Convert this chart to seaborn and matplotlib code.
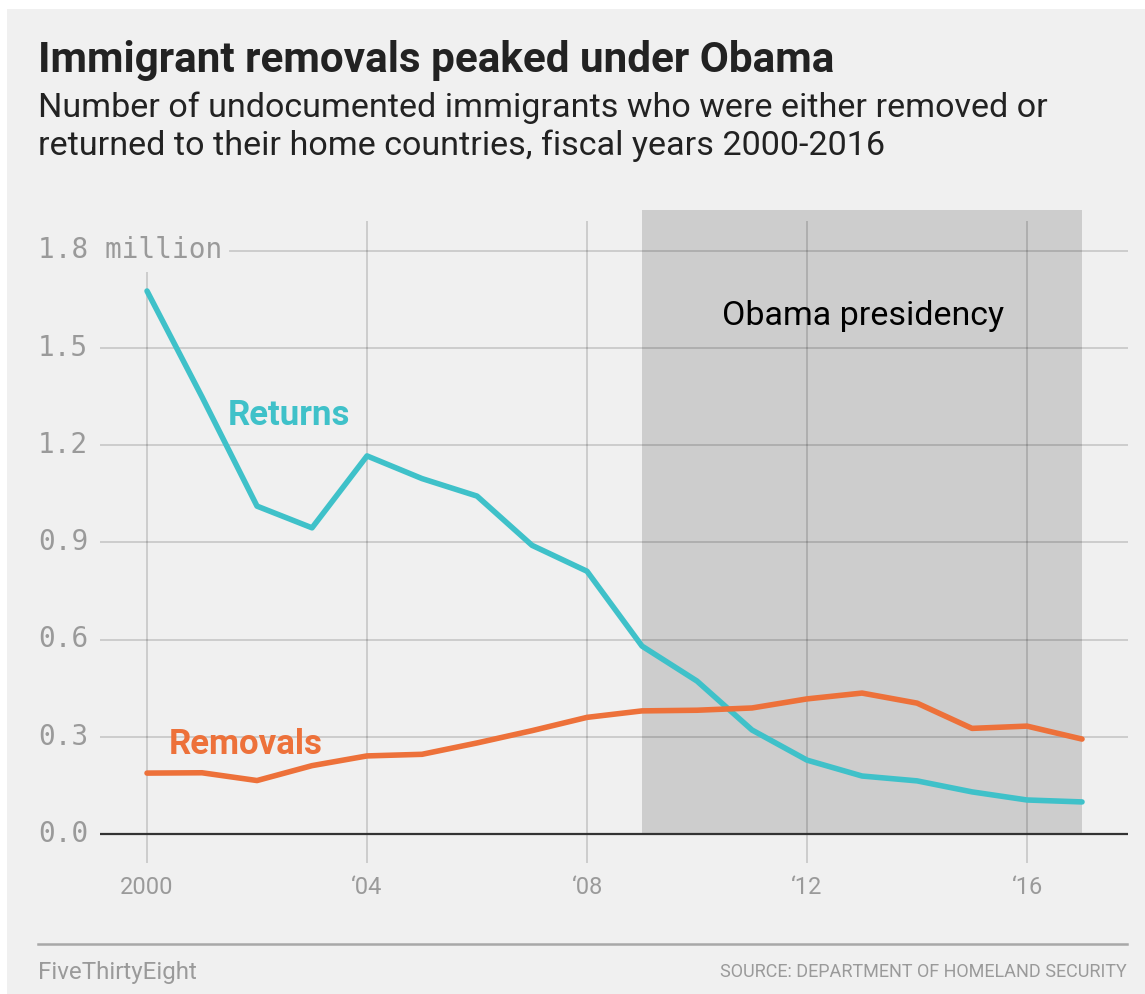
"""Immigrant removals vs. returns, FiveThirtyEight style."""

import matplotlib.patches as mpatches
import pandas as pd
import seaborn as sns
from matplotlib import pyplot as plt

years = list(range(2000, 2018))
returns_m = [1.676, 1.349, 1.012, 0.945, 1.167, 1.097, 1.043, 0.891, 0.811,
             0.580, 0.472, 0.321, 0.228, 0.179, 0.164, 0.130, 0.105, 0.099]
removals_m = [0.188, 0.189, 0.165, 0.211, 0.241, 0.246, 0.281, 0.319, 0.360,
              0.380, 0.382, 0.389, 0.417, 0.435, 0.404, 0.326, 0.333, 0.293]

y_ticks = [0.0, 0.3, 0.6, 0.9, 1.2, 1.5, 1.8]
y_labels = ["0.0", "0.3", "0.6", "0.9", "1.2", "1.5", "1.8 million"]
x_ticks = [2000, 2004, 2008, 2012, 2016]
x_labels = ["2000", "\u201804", "\u201808", "\u201812", "\u201816"]
obama_span = (2009, 2017)

SERIES_COLOR = {"Returns": "#3fc1c9", "Removals": "#ed713a"}
BG = "#f0f0f0"
TICK_GRAY = "#9a9a9a"

df = pd.concat([
    pd.DataFrame({"year": years, "value": returns_m, "series": "Returns"}),
    pd.DataFrame({"year": years, "value": removals_m, "series": "Removals"}),
])

W, H = 1145, 994
fig = plt.figure(figsize=(W / 100, H / 100), dpi=100, facecolor="white")
fig.patches.append(mpatches.Rectangle((7 / W, 0), 1, 1 - 9 / H,
                                      transform=fig.transFigure,
                                      facecolor=BG, edgecolor="none", zorder=-10))

# axes placed in pixel coords: left 100, right 1128, top 210, bottom 863
ax = fig.add_axes([100 / W, 1 - 863 / H, 1028 / W, 653 / H])
ax.set_facecolor("none")
YMIN, YMAX = -0.0895, 1.926
ax.set_xlim(1999.145, 2017.836)
ax.set_ylim(YMIN, YMAX)
for s in ax.spines.values():
    s.set_visible(False)
ax.set_xticks([])
ax.set_yticks([])

# shaded Obama years, from the baseline to the top of the axes
ax.axvspan(*obama_span, ymin=(0 - YMIN) / (YMAX - YMIN), ymax=1,
           color="#cdcdcd", zorder=0, lw=0)

# grid lines (semi-transparent so they darken over the shading)
for t in y_ticks:
    if t == 0:
        continue
    xmin = (230 - 100) / 1028 if t == 1.8 else 0
    ax.axhline(t, xmin=xmin, color="black", alpha=0.16, lw=1.3, zorder=1)
for t in x_ticks:
    top = 1.735 if t == 2000 else 1.892
    ax.vlines(t, YMIN, top, color="black", alpha=0.16, lw=1.3, zorder=1)
ax.axhline(0, color="#333333", lw=1.6, zorder=2)

sns.lineplot(data=df, x="year", y="value", hue="series", palette=SERIES_COLOR,
             lw=4, legend=False, ax=ax, zorder=3, solid_capstyle="round")
ax.set_xlabel("")
ax.set_ylabel("")

# tick labels as text
for t, lab in zip(y_ticks, y_labels):
    fig.text(38 / W, 1 - (834 - t * 324.3) / H, lab, family="DejaVu Sans Mono",
             fontsize=20, color=TICK_GRAY, va="center", ha="left")
for t, lab in zip(x_ticks, x_labels):
    ax.text(t, -0.165, lab, family="Roboto", fontsize=17, color=TICK_GRAY,
            ha="center", va="center")

ax.text(2002.58, 1.293, "Returns", family="Roboto", fontweight="bold",
        fontsize=25, color=SERIES_COLOR["Returns"], ha="center", va="center")
ax.text(2001.8, 0.275, "Removals", family="Roboto", fontweight="bold",
        fontsize=25, color=SERIES_COLOR["Removals"], ha="center", va="center")
ax.text(2013.02, 1.60, "Obama presidency", family="Roboto", fontsize=24.5,
        color="black", ha="center", va="center")

# title block
fig.text(38 / W, 1 - 72 / H, "Immigrant removals peaked under Obama",
         family="Roboto", fontweight="bold", fontsize=30.4, color="#222222",
         ha="left", va="baseline")
fig.text(38 / W, 1 - 117 / H,
         "Number of undocumented immigrants who were either removed or",
         family="Roboto", fontsize=24.6, color="#222222", ha="left", va="baseline")
fig.text(38 / W, 1 - 155 / H,
         "returned to their home countries, fiscal years 2000-2016",
         family="Roboto", fontsize=24.6, color="#222222", ha="left", va="baseline")

# footer
fig.add_artist(plt.Line2D([38 / W, 1127 / W], [1 - 944 / H, 1 - 944 / H],
                          transform=fig.transFigure, color="#a8a8a8", lw=1.8))
fig.text(38 / W, 1 - 972 / H, "FiveThirtyEight", family="Roboto", fontsize=17.4,
         color=TICK_GRAY, ha="left", va="center")
fig.text(1127 / W, 1 - 972 / H, "SOURCE: DEPARTMENT OF HOMELAND SECURITY",
         family="Roboto", fontsize=13, color=TICK_GRAY, ha="right", va="center")

fig.savefig("out.png", dpi=100, facecolor="white")
